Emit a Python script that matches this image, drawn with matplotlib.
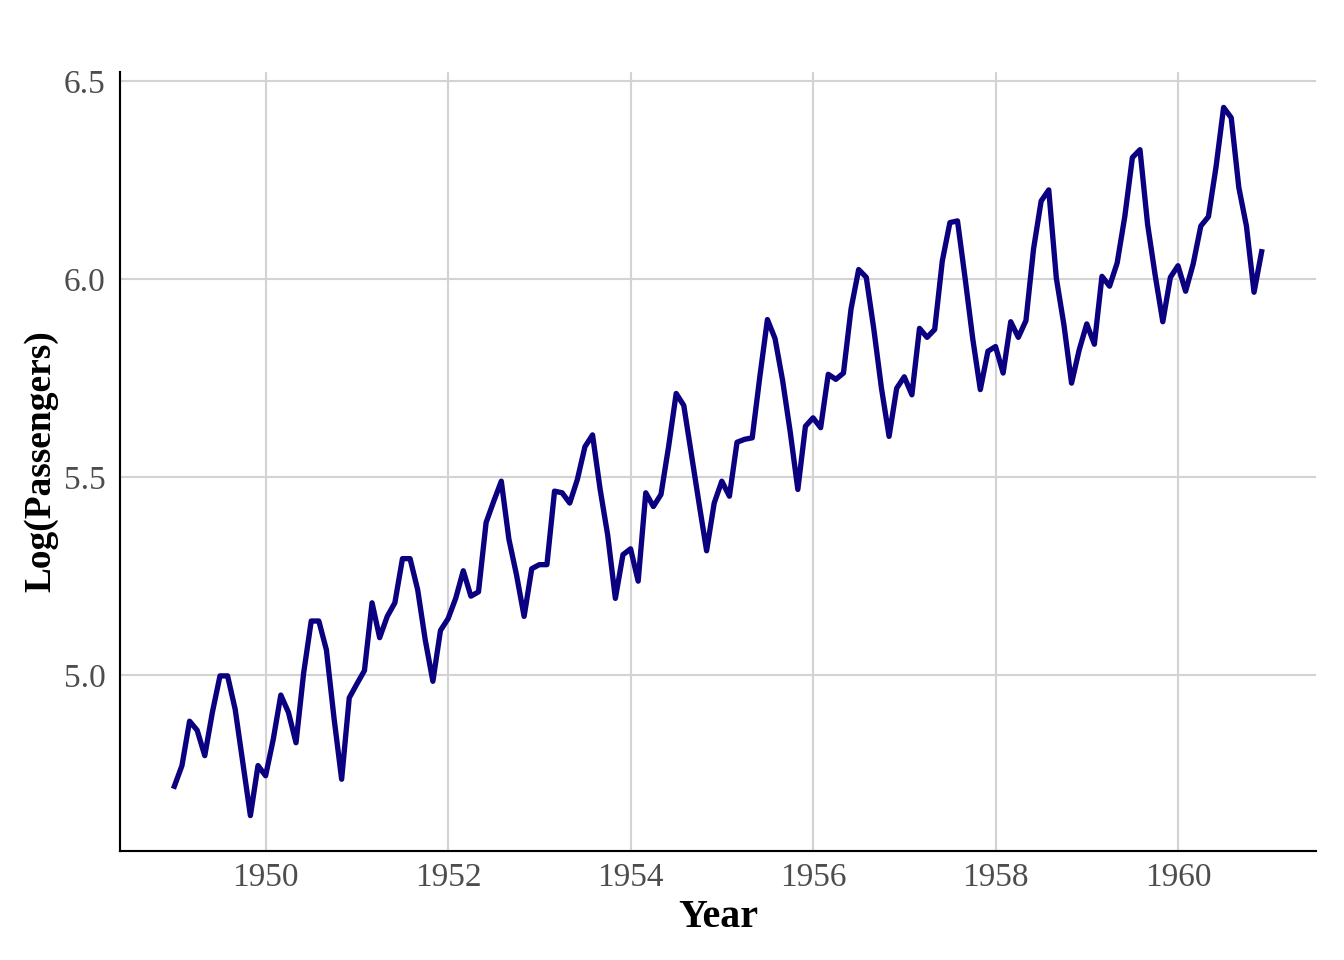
import numpy as np
import matplotlib
matplotlib.use("Agg")
import matplotlib.pyplot as plt

# AirPassengers monthly totals (thousands), Jan..Dec per year
years = list(range(1949, 1961))
passengers = [
    [112, 118, 132, 129, 121, 135, 148, 148, 136, 119, 104, 118],
    [115, 126, 141, 135, 125, 149, 170, 170, 158, 133, 114, 140],
    [145, 150, 178, 163, 172, 178, 199, 199, 184, 162, 146, 166],
    [171, 180, 193, 181, 183, 218, 230, 242, 209, 191, 172, 194],
    [196, 196, 236, 235, 229, 243, 264, 272, 237, 211, 180, 201],
    [204, 188, 235, 227, 234, 264, 302, 293, 259, 229, 203, 229],
    [242, 233, 267, 269, 270, 315, 364, 347, 312, 274, 237, 278],
    [284, 277, 317, 313, 318, 374, 413, 405, 355, 306, 271, 306],
    [315, 301, 356, 348, 355, 422, 465, 467, 404, 347, 305, 336],
    [340, 318, 362, 348, 363, 435, 491, 505, 404, 359, 310, 337],
    [360, 342, 406, 396, 420, 472, 548, 559, 463, 407, 362, 405],
    [417, 391, 419, 461, 472, 535, 622, 606, 508, 461, 390, 432],
]
x_ticks = [1950, 1952, 1954, 1956, 1958, 1960]
y_ticks = [5.0, 5.5, 6.0, 6.5]

t = np.array([y + m / 12.0 for y in years for m in range(12)])
vals = np.log(np.array(passengers, dtype=float).ravel())

plt.rcParams['font.family'] = ['Liberation Serif', 'DejaVu Serif']

fig = plt.figure(figsize=(7, 5), dpi=192)
ax = fig.add_axes([120/1344, 109/960, (1316-120)/1344, (851-72)/960])

ax.plot(t, vals, color='#0b0080', lw=2.0, solid_joinstyle='round', zorder=3)

span = t.max() - t.min()
ax.set_xlim(t.min() - 0.05*span, t.max() + 0.05*span)
yspan = vals.max() - vals.min()
ax.set_ylim(vals.min() - 0.05*yspan, vals.max() + 0.05*yspan)

ax.set_xticks(x_ticks)
ax.set_xticklabels([str(v) for v in x_ticks])
ax.set_yticks(y_ticks)
ax.set_yticklabels([f"{v:.1f}" for v in y_ticks])

ax.grid(True, color='#d3d3d3', lw=0.8)
ax.set_axisbelow(True)
for s in ['top', 'right']:
    ax.spines[s].set_visible(False)
for s in ['left', 'bottom']:
    ax.spines[s].set_color('black')
    ax.spines[s].set_linewidth(0.8)
ax.tick_params(axis='x', length=0, labelsize=12.5, labelcolor='#4d4d4d', pad=4.5)
ax.tick_params(axis='y', length=0, labelsize=12.5, labelcolor='#4d4d4d', pad=5.5)

ax.set_xlabel('Year', fontsize=15, fontweight='bold', labelpad=2)
ax.set_ylabel('Log(Passengers)', fontsize=14, fontweight='bold', labelpad=2)

fig.savefig('out.png', dpi=192)
